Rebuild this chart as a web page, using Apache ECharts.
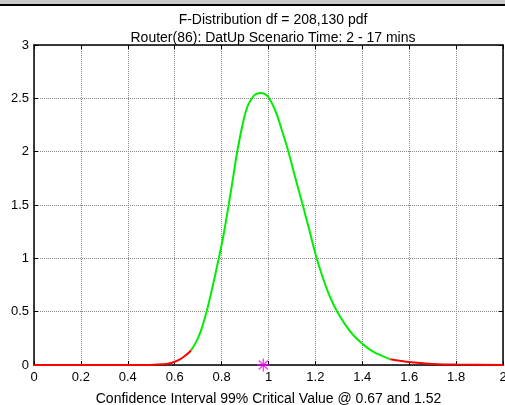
<!DOCTYPE html>
<html>
<head>
<meta charset="utf-8">
<script src="https://cdn.jsdelivr.net/npm/echarts@6/dist/echarts.min.js"></script>
<style>
  html, body { margin: 0; padding: 0; background: #fff; }
  #chart { width: 505px; height: 405px; }
</style>
</head>
<body>
<div id="chart"></div>
<script>
// values
var leftTailX = [0, 0.25, 0.4, 0.5, 0.55, 0.58, 0.6, 0.62, 0.64, 0.66, 0.67];
var leftTailY = [0, 0, 0, 0.001, 0.006, 0.016, 0.03, 0.05, 0.08, 0.115, 0.14];

var bodyX = [0.67, 0.69, 0.71, 0.736, 0.76, 0.788, 0.81, 0.83, 0.85, 0.865, 0.89, 0.91, 0.94, 0.968, 0.985, 1.0,
             1.03, 1.06, 1.085, 1.115, 1.146, 1.17, 1.203, 1.23, 1.26, 1.293, 1.35, 1.4, 1.45, 1.52];
var bodyY = [0.14, 0.21, 0.31, 0.5, 0.72, 1.0, 1.24, 1.5, 1.77, 1.98, 2.26, 2.42, 2.53, 2.55, 2.54, 2.51,
             2.38, 2.18, 2.0, 1.75, 1.5, 1.3, 1.02, 0.83, 0.65, 0.5, 0.31, 0.2, 0.12, 0.053];

var rightTailX = [1.52, 1.56, 1.6, 1.65, 1.7, 1.8, 2.0];
var rightTailY = [0.053, 0.04, 0.028, 0.018, 0.01, 0.004, 0.001];

var markX = [0.978];
var markY = [0];

var xTicks = ['0', '0.2', '0.4', '0.6', '0.8', '1', '1.2', '1.4', '1.6', '1.8', '2'];
var yTicks = ['0', '0.5', '1', '1.5', '2', '2.5', '3'];

function pairs(xs, ys) {
  var out = [];
  for (var i = 0; i < xs.length; i++) out.push([xs[i], ys[i]]);
  return out;
}

var fontName = '"Liberation Sans", Arial, sans-serif';
var asterisk = 'path://M-1,-10L1,-10L1,10L-1,10Z M-10,-1L10,-1L10,1L-10,1Z ' +
  'M-7.7,-6.3L-6.3,-7.7L7.7,6.3L6.3,7.7Z M6.3,-7.7L7.7,-6.3L-6.3,7.7L-7.7,6.3Z';

var gridStyle = { show: true, lineStyle: { color: '#888', type: 'dotted', width: 1 } };
var tickStyle = { show: true, inside: true, length: 4, lineStyle: { color: '#000' } };

var myChart = echarts.init(document.getElementById('chart'), null, { renderer: 'canvas' });
myChart.setOption({
  animation: false,
  backgroundColor: '#fff',
  textStyle: { fontFamily: fontName },
  title: {
    text: 'F-Distribution df = 208,130 pdf\nRouter(86): DatUp Scenario Time: 2 - 17 mins',
    left: 268, top: 6, textAlign: 'center',
    textStyle: { fontSize: 14, fontWeight: 'normal', color: '#000', lineHeight: 18, fontFamily: fontName }
  },
  graphic: [
    { type: 'rect', shape: { x: 0, y: 0, width: 505, height: 4 }, style: { fill: '#c8c8c8' } },
    { type: 'rect', shape: { x: 0, y: 4, width: 505, height: 2 }, style: { fill: '#000' } }
  ],
  grid: { left: 34, right: 2, top: 45, bottom: 40, containLabel: false, outerBoundsMode: 'none' },
  xAxis: [
    {
      type: 'value', min: 0, max: 2, interval: 0.2, position: 'bottom',
      name: 'Confidence Interval 99% Critical Value @ 0.67 and 1.52',
      nameLocation: 'middle', nameGap: 27,
      nameTextStyle: { fontSize: 14, color: '#000', fontFamily: fontName },
      axisLine: { show: true, onZero: false, lineStyle: { color: '#000', width: 1.5 } },
      axisTick: tickStyle,
      axisLabel: {
        fontSize: 13, color: '#000', margin: 6, fontFamily: fontName,
        formatter: function (v) { return xTicks[Math.round(v / 0.2)]; }
      },
      splitLine: gridStyle
    },
    {
      type: 'value', min: 0, max: 2, interval: 0.2, position: 'top',
      axisLine: { show: true, onZero: false, lineStyle: { color: '#000', width: 1.5 } },
      axisTick: tickStyle, axisLabel: { show: false }, splitLine: { show: false }
    }
  ],
  yAxis: [
    {
      type: 'value', min: 0, max: 3, interval: 0.5, position: 'left',
      axisLine: { show: true, onZero: false, lineStyle: { color: '#000', width: 1.5 } },
      axisTick: tickStyle,
      axisLabel: {
        fontSize: 13, color: '#000', margin: 5, fontFamily: fontName,
        formatter: function (v) { return yTicks[Math.round(v / 0.5)]; }
      },
      splitLine: gridStyle
    },
    {
      type: 'value', min: 0, max: 3, interval: 0.5, position: 'right',
      axisLine: { show: true, onZero: false, lineStyle: { color: '#000', width: 1.5 } },
      axisTick: tickStyle, axisLabel: { show: false }, splitLine: { show: false }
    }
  ],
  series: [
    {
      name: 'left tail', type: 'line', data: pairs(leftTailX, leftTailY),
      showSymbol: false, smooth: 0.3,
      lineStyle: { color: '#ff0000', width: 2 }, z: 3
    },
    {
      name: 'pdf', type: 'line', data: pairs(bodyX, bodyY),
      showSymbol: false, smooth: 0.3,
      lineStyle: { color: '#00ee00', width: 2 }, z: 3
    },
    {
      name: 'right tail', type: 'line', data: pairs(rightTailX, rightTailY),
      showSymbol: false, smooth: 0.3,
      lineStyle: { color: '#ff0000', width: 2 }, z: 3
    },
    {
      name: 'mode', type: 'scatter', data: pairs(markX, markY),
      symbol: asterisk, symbolSize: 13,
      itemStyle: { color: '#ff00ff' }, z: 4
    }
  ]
});
</script>
</body>
</html>
